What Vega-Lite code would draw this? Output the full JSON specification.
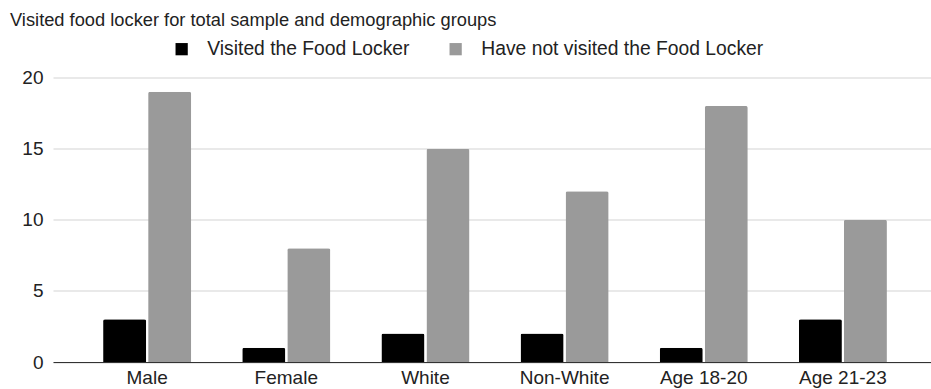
{
  "$schema": "https://vega.github.io/schema/vega-lite/v6.json",
  "autosize": {"type": "none"},
  "padding": {"left": 53, "top": 77.5, "right": 0, "bottom": 27},
  "width": 884,
  "height": 284.5,
  "background": "white",
  "title": {
    "text": "Visited food locker for total sample and demographic groups",
    "anchor": "start",
    "frame": "group",
    "dx": -43,
    "dy": -5,
    "fontSize": 18.3,
    "fontWeight": "normal",
    "font": "Liberation Sans",
    "color": "#222222"
  },
  "data": {
    "values": [
      {"group": "Male", "status": "Visited the Food Locker", "count": 3},
      {"group": "Male", "status": "Have not visited the Food Locker", "count": 19},
      {"group": "Female", "status": "Visited the Food Locker", "count": 1},
      {"group": "Female", "status": "Have not visited the Food Locker", "count": 8},
      {"group": "White", "status": "Visited the Food Locker", "count": 2},
      {"group": "White", "status": "Have not visited the Food Locker", "count": 15},
      {"group": "Non-White", "status": "Visited the Food Locker", "count": 2},
      {"group": "Non-White", "status": "Have not visited the Food Locker", "count": 12},
      {"group": "Age 18-20", "status": "Visited the Food Locker", "count": 1},
      {"group": "Age 18-20", "status": "Have not visited the Food Locker", "count": 18},
      {"group": "Age 21-23", "status": "Visited the Food Locker", "count": 3},
      {"group": "Age 21-23", "status": "Have not visited the Food Locker", "count": 10}
    ]
  },
  "mark": {"type": "bar", "cornerRadiusEnd": 2},
  "encoding": {
    "x": {
      "field": "group",
      "type": "nominal",
      "sort": null,
      "title": null,
      "scale": {"paddingInner": 0.367, "paddingOuter": 0.36},
      "axis": {
        "labelAngle": 0,
        "ticks": false,
        "domainColor": "#333333",
        "domainWidth": 1,
        "labelPadding": 6,
        "grid": false
      }
    },
    "xOffset": {
      "field": "status",
      "type": "nominal",
      "sort": ["Visited the Food Locker", "Have not visited the Food Locker"],
      "scale": {"paddingInner": 0.044, "paddingOuter": 0}
    },
    "y": {
      "field": "count",
      "type": "quantitative",
      "title": null,
      "scale": {"domain": [0, 20], "nice": false},
      "axis": {
        "values": [0, 5, 10, 15, 20],
        "domain": false,
        "ticks": false,
        "labelPadding": 10,
        "gridColor": "#d3d3d3",
        "gridWidth": 1
      }
    },
    "color": {
      "field": "status",
      "type": "nominal",
      "sort": ["Visited the Food Locker", "Have not visited the Food Locker"],
      "scale": {
        "domain": ["Visited the Food Locker", "Have not visited the Food Locker"],
        "range": ["#000000", "#9a9a9a"]
      },
      "legend": {
        "title": null,
        "orient": "none",
        "direction": "horizontal",
        "legendX": 119,
        "legendY": -38,
        "symbolType": "square",
        "symbolSize": 150,
        "symbolStrokeWidth": 0,
        "symbolOpacity": 1,
        "labelOffset": 16,
        "columnPadding": 36,
        "labelFontSize": 19.3,
        "labelFont": "Liberation Sans",
        "labelColor": "#222222",
        "labelLimit": 400
      }
    }
  },
  "config": {
    "view": {"stroke": null},
    "axis": {
      "labelFont": "Liberation Sans",
      "labelFontSize": 19,
      "labelColor": "#222222"
    }
  }
}
